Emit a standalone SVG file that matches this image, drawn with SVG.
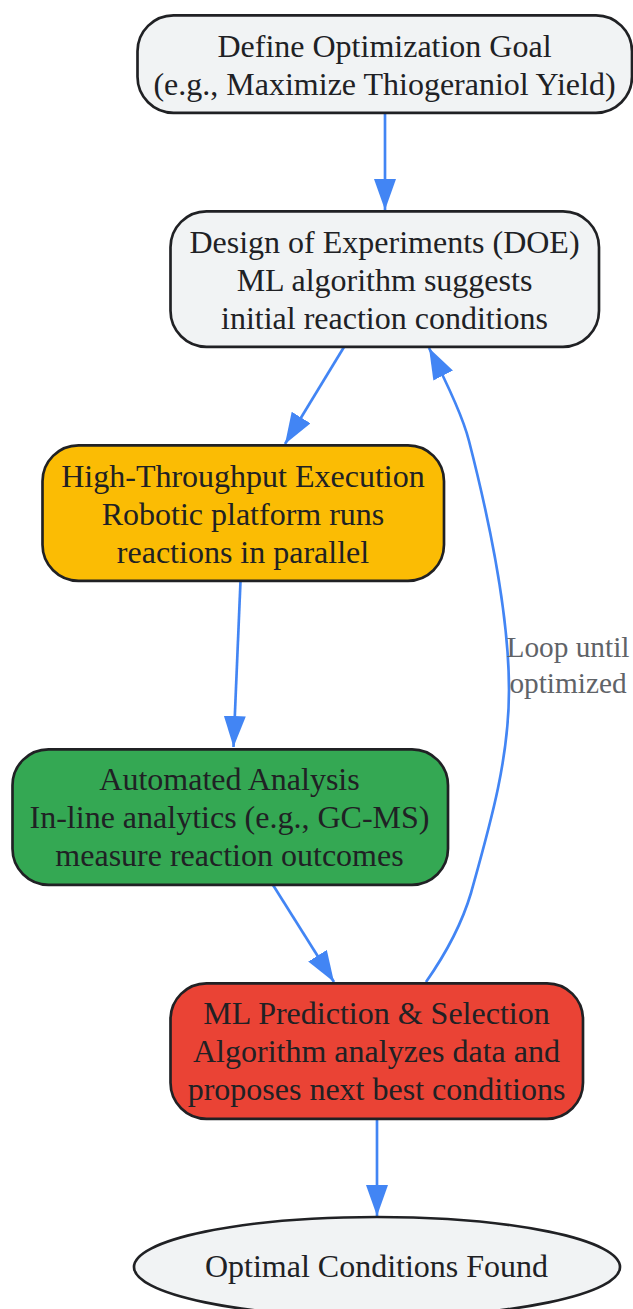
<svg xmlns="http://www.w3.org/2000/svg" width="633" height="1309" viewBox="0 0 633 1309">
<style>
text{font-family:"Liberation Serif","Times New Roman",serif;font-size:32px;fill:#202124;text-anchor:middle}
.n{stroke:#202124;stroke-width:2.67}
.e{fill:none;stroke:#4285f4;stroke-width:2.67}
text.l{fill:#5f6368;font-size:29.3px}
</style>
<defs><marker id="a" markerUnits="userSpaceOnUse" markerWidth="32" markerHeight="24" refX="31" refY="11" orient="auto"><path d="M0 0L31 11L0 22z" fill="#4285f4"/></marker></defs>
<rect width="633" height="1309" fill="#fff"/>
<g id="connectors">
<path class="e" marker-end="url(#a)" d="M385 113V210"/>
<path class="e" marker-end="url(#a)" d="M344 347L285 444"/>
<path class="e" marker-end="url(#a)" d="M240.500 581L233.500 747"/>
<path class="e" marker-end="url(#a)" d="M273 885L334 982"/>
<path class="e" marker-end="url(#a)" d="M426 982C440 962 460 930 471 893C490 825 509 760 509 690C509 610 488 515 469 441C463 417 448 385 429 348"/>
<path class="e" marker-end="url(#a)" d="M377 1119V1216"/>
</g>
<g id="n1"><rect class="n" x="137.500" y="15.300" width="494.500" height="97.500" rx="36" fill="#f1f3f4"/><text x="384.500" y="57">Define Optimization Goal</text><text x="384.500" y="95">(e.g., Maximize Thiogeraniol Yield)</text></g>
<g id="n2"><rect class="n" x="170.500" y="211.300" width="428.500" height="135.500" rx="36" fill="#f1f3f4"/><text x="384.500" y="253">Design of Experiments (DOE)</text><text x="384.500" y="291">ML algorithm suggests</text><text x="384.500" y="329">initial reaction conditions</text></g>
<g id="n3"><rect class="n" x="42.500" y="445.300" width="401.500" height="135.500" rx="36" fill="#fbbc04"/><text x="243" y="487">High-Throughput Execution</text><text x="243" y="525">Robotic platform runs</text><text x="243" y="563">reactions in parallel</text></g>
<g id="n4"><rect class="n" x="12.500" y="749.300" width="435.500" height="135.500" rx="36" fill="#34a853"/><text x="229.500" y="790">Automated Analysis</text><text x="229.500" y="828">In-line analytics (e.g., GC-MS)</text><text x="229.500" y="866">measure reaction outcomes</text></g>
<g id="n5"><rect class="n" x="170.500" y="983.300" width="412.500" height="135.500" rx="36" fill="#ea4335"/><text x="376.500" y="1024">ML Prediction &amp; Selection</text><text x="376.500" y="1062">Algorithm analyzes data and</text><text x="376.500" y="1100">proposes next best conditions</text></g>
<g id="n6"><ellipse class="n" cx="377" cy="1267" rx="243" ry="50" fill="#f1f3f4"/><text x="376.500" y="1277">Optimal Conditions Found</text></g>
<g id="edge-label"><text class="l" x="568" y="657">Loop until</text><text class="l" x="568" y="693">optimized</text></g>
</svg>
